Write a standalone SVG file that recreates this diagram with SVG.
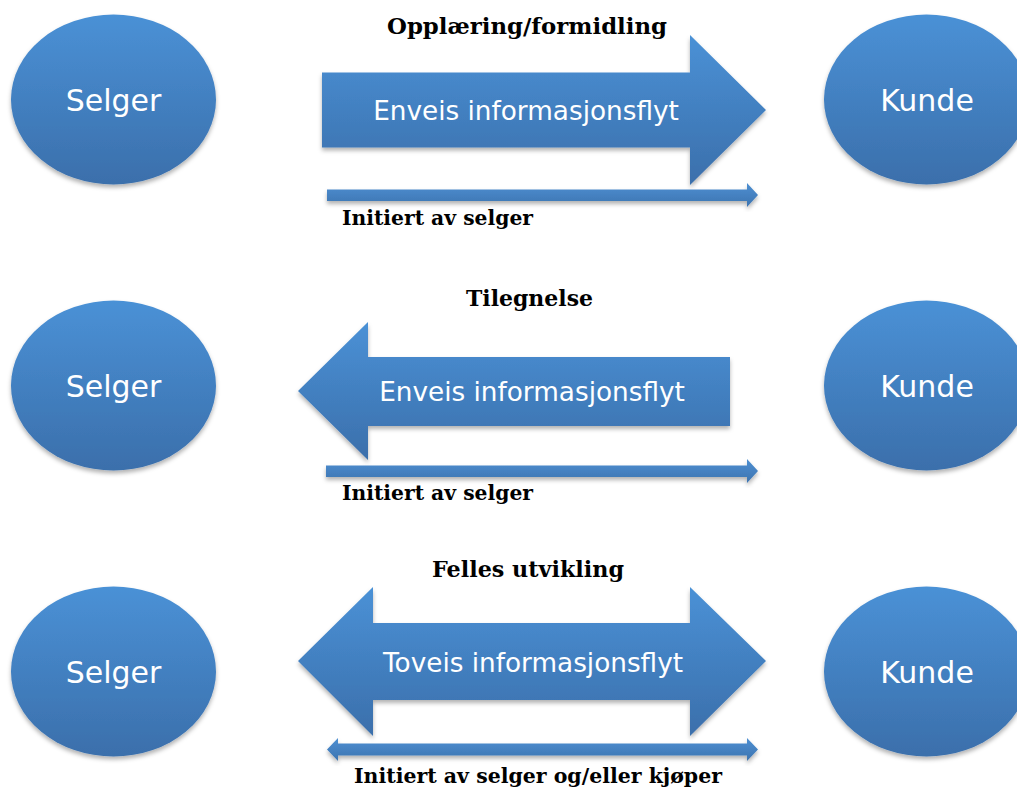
<svg xmlns="http://www.w3.org/2000/svg" width="1017" height="787" viewBox="0 0 1017 787">
<style>
  .node { fill: url(#g); filter: url(#sh); }
  .arrow { fill: url(#g); filter: url(#sh); }
  .thin { fill: url(#g2); filter: url(#sh); }
  .nl { font-family: "DejaVu Sans", Verdana, sans-serif; font-size: 30px; fill: #ffffff; text-anchor: middle; }
  .al { font-family: "DejaVu Sans", Verdana, sans-serif; font-size: 26.3px; fill: #ffffff; text-anchor: middle; }
  .tt { font-family: "DejaVu Serif", Georgia, serif; font-weight: bold; font-size: 23px; fill: #000000; text-anchor: middle; }
  .il { font-family: "DejaVu Serif", Georgia, serif; font-weight: bold; font-size: 20.5px; fill: #000000; }
</style>
<defs>
  <linearGradient id="g" x1="0" y1="0" x2="0" y2="1">
    <stop offset="0" stop-color="#4a91d6"/>
    <stop offset="1" stop-color="#3b6fab"/>
  </linearGradient>
  <linearGradient id="g2" x1="0" y1="0" x2="0" y2="1">
    <stop offset="0" stop-color="#4d8fd2"/>
    <stop offset="1" stop-color="#3d74b0"/>
  </linearGradient>
  <filter id="sh" x="-10%" y="-10%" width="120%" height="130%">
    <feDropShadow dx="0" dy="3" stdDeviation="2" flood-color="#000" flood-opacity="0.3"/>
  </filter>
</defs>
<rect width="1017" height="787" fill="#ffffff"/>

<g id="selger1"><ellipse class="node" cx="113.5" cy="99.5" rx="102.5" ry="85"/><text class="nl" x="113.5" y="111">Selger</text></g>
<g id="kunde1"><ellipse class="node" cx="926.5" cy="99.5" rx="102.5" ry="85"/><text class="nl" x="927" y="111">Kunde</text></g>
<g id="selger2"><ellipse class="node" cx="113.5" cy="385.5" rx="102.5" ry="85"/><text class="nl" x="113.5" y="397">Selger</text></g>
<g id="kunde2"><ellipse class="node" cx="926.5" cy="385.5" rx="102.5" ry="85"/><text class="nl" x="927" y="397">Kunde</text></g>
<g id="selger3"><ellipse class="node" cx="113.5" cy="671.5" rx="102.5" ry="85"/><text class="nl" x="113.5" y="683">Selger</text></g>
<g id="kunde3"><ellipse class="node" cx="926.5" cy="671.5" rx="102.5" ry="85"/><text class="nl" x="927" y="683">Kunde</text></g>

<g id="connectors">
  <g id="flow1">
    <path class="arrow" d="M322,72.5 H690 V35 L766,110 L690,185 V147.5 H322 Z"/>
    <text class="al" x="526" y="120">Enveis informasjonsflyt</text>
  </g>
  <g id="flow2">
    <path class="arrow" d="M730,357 H368 V322 L298,391 L368,460 V426 H730 Z"/>
    <text class="al" x="532" y="401">Enveis informasjonsflyt</text>
  </g>
  <g id="flow3">
    <path class="arrow" d="M373,623 H690 V587 L766,661 L690,736 V700 H373 V736 L298,661 L373,587 Z"/>
    <text class="al" x="533" y="672">Toveis informasjonsflyt</text>
  </g>
  <path id="init1" class="thin" d="M327,189.5 H747 V183 L758,195 L747,207 V201 H327 Z"/>
  <path id="init2" class="thin" d="M326,465.5 H747 V459 L758,471 L747,483 V477 H326 Z"/>
  <path id="init3" class="thin" d="M338,743.5 H747 V738 L758,749.5 L747,761 V755.5 H338 V761 L327,749.5 L338,738 Z"/>
</g>

<g id="labels">
  <text class="tt" x="527" y="34" textLength="280" lengthAdjust="spacingAndGlyphs">Opplæring/formidling</text>
  <text class="il" x="342" y="225" textLength="191" lengthAdjust="spacingAndGlyphs">Initiert av selger</text>
  <text class="tt" x="529.5" y="306" textLength="127" lengthAdjust="spacingAndGlyphs">Tilegnelse</text>
  <text class="il" x="342" y="500" textLength="191" lengthAdjust="spacingAndGlyphs">Initiert av selger</text>
  <text class="tt" x="528" y="577" textLength="192" lengthAdjust="spacingAndGlyphs">Felles utvikling</text>
  <text class="il" x="354" y="783" textLength="368" lengthAdjust="spacingAndGlyphs">Initiert av selger og/eller kjøper</text>
</g>
</svg>
